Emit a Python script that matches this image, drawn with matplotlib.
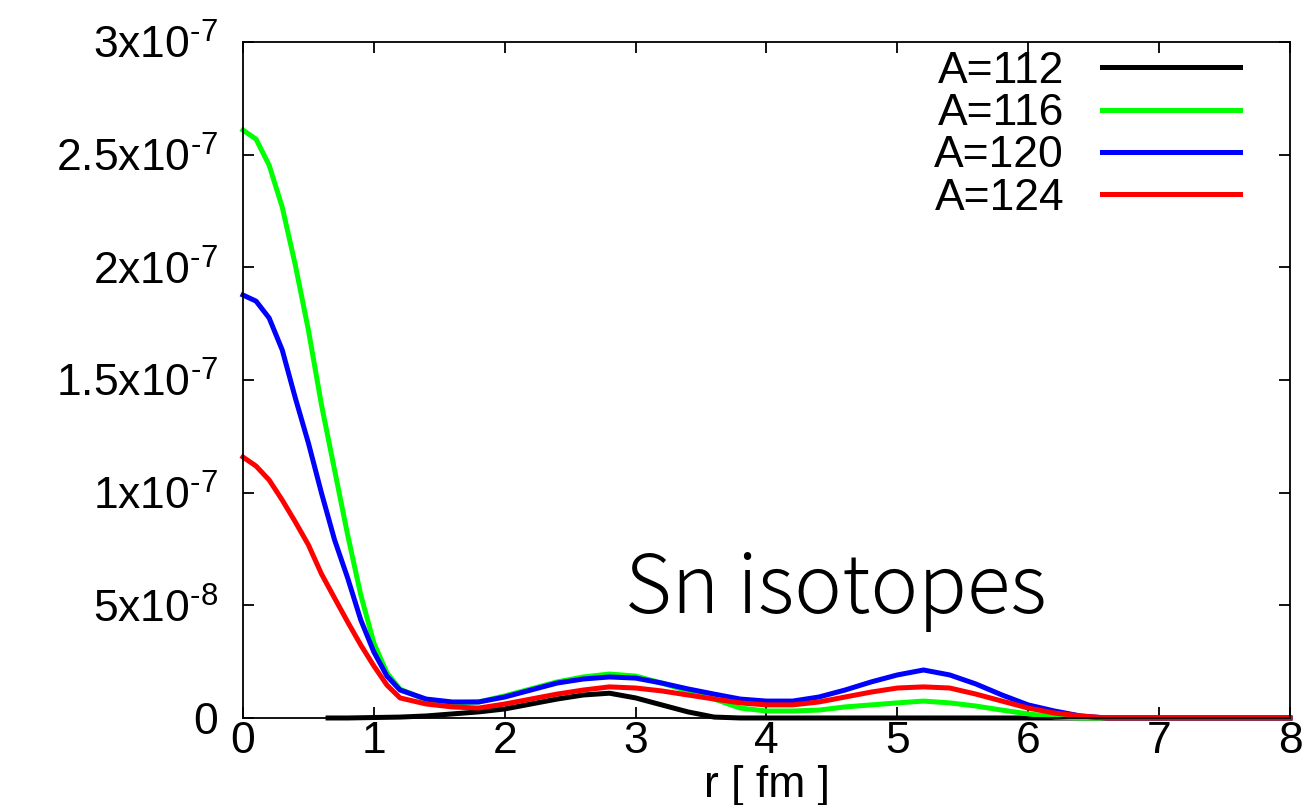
import matplotlib
matplotlib.use("Agg")
import matplotlib.pyplot as plt
import numpy as np
from matplotlib import rcParams

rcParams.update({'font.family': 'Liberation Sans', 'font.size': 32,
                 'mathtext.fontset': 'custom', 'mathtext.rm': 'Liberation Sans'})

# radius grid [fm]: fine near the centre, coarser outside
r = [0.0, 0.1, 0.2, 0.3, 0.4, 0.5, 0.6, 0.7, 0.8, 0.9, 1.0, 1.1, 1.2,
     1.4, 1.6, 1.8, 2.0, 2.2, 2.4, 2.6, 2.8, 3.0, 3.2, 3.4, 3.6, 3.8,
     4.0, 4.2, 4.4, 4.6, 4.8, 5.0, 5.2, 5.4, 5.6, 5.8, 6.0, 6.2, 6.4,
     6.6, 6.8, 7.0, 7.2, 7.4, 7.6, 7.8, 8.0]

# densities in units of 1e-8
dens_116 = [26.09, 25.69, 24.53, 22.67, 20.10, 17.21, 13.89, 11.00, 8.12, 5.46, 3.33, 2.00, 1.28,
            0.80, 0.67, 0.71, 0.98, 1.29, 1.60, 1.82, 1.95, 1.86, 1.55, 1.20, 0.84, 0.44,
            0.31, 0.31, 0.35, 0.49, 0.58, 0.67, 0.75, 0.67, 0.53, 0.35, 0.18, 0.05, 0.0,
            0.0, 0.0, 0.0, 0.0, 0.0, 0.0, 0.0, 0.0]
dens_120 = [18.77, 18.50, 17.75, 16.33, 14.20, 12.20, 9.98, 7.90, 6.21, 4.35, 2.93, 1.86, 1.24,
            0.84, 0.71, 0.71, 0.93, 1.24, 1.55, 1.73, 1.82, 1.77, 1.55, 1.29, 1.06, 0.84,
            0.75, 0.75, 0.93, 1.24, 1.60, 1.91, 2.13, 1.91, 1.51, 1.02, 0.58, 0.31, 0.09,
            0.0, 0.0, 0.0, 0.0, 0.0, 0.0, 0.0, 0.0]
dens_124 = [11.58, 11.18, 10.56, 9.67, 8.70, 7.68, 6.39, 5.32, 4.26, 3.24, 2.31, 1.46, 0.89,
            0.62, 0.49, 0.44, 0.62, 0.84, 1.06, 1.24, 1.38, 1.33, 1.20, 1.02, 0.84, 0.67,
            0.58, 0.58, 0.71, 0.93, 1.15, 1.33, 1.38, 1.33, 1.06, 0.75, 0.44, 0.22, 0.09,
            0.0, 0.0, 0.0, 0.0, 0.0, 0.0, 0.0, 0.0]

# A=112 only starts at r ~ 0.65 fm
r_112 = [0.65, 0.8, 1.0, 1.2, 1.4, 1.6, 1.8, 2.0, 2.2, 2.4, 2.6, 2.8, 3.0, 3.2, 3.4,
         3.6, 3.8, 4.0, 5.0, 6.0, 7.0, 8.0]
dens_112 = [0.0, 0.0, 0.02, 0.04, 0.09, 0.18, 0.27, 0.40, 0.62, 0.84, 1.02, 1.10, 0.89,
            0.58, 0.27, 0.04, 0.0, 0.0, 0.0, 0.0, 0.0, 0.0]

y_ticks = [0, 5e-8, 1e-7, 1.5e-7, 2e-7, 2.5e-7, 3e-7]
y_tick_labels = ['0', r'$\mathregular{5x10^{\text{-}8}}$', r'$\mathregular{1x10^{\text{-}7}}$',
                 r'$\mathregular{1.5x10^{\text{-}7}}$', r'$\mathregular{2x10^{\text{-}7}}$',
                 r'$\mathregular{2.5x10^{\text{-}7}}$', r'$\mathregular{3x10^{\text{-}7}}$']
x_ticks = [0, 1, 2, 3, 4, 5, 6, 7, 8]

fig = plt.figure(figsize=(13.12, 8.05), dpi=100)
ax = fig.add_axes([0.1852, 0.1081, 0.798, 0.8397])

lw = 3.6
scale = 1e-8
ax.plot(r_112, np.array(dens_112) * scale, color='#000000', lw=lw, label='A=112', clip_on=False)
ax.plot(r, np.array(dens_116) * scale, color='#00ff00', lw=lw, label='A=116', clip_on=False)
ax.plot(r, np.array(dens_120) * scale, color='#0000ff', lw=lw, label='A=120', clip_on=False)
ax.plot(r, np.array(dens_124) * scale, color='#ff0000', lw=lw, label='A=124', clip_on=False)

ax.set_xlim(0, 8)
ax.set_ylim(0, 3e-7)
ax.set_xticks(x_ticks)
ax.set_xticklabels([str(t) for t in x_ticks])
ax.set_yticks(y_ticks)
ax.set_yticklabels(y_tick_labels)
ax.tick_params(direction='in', length=8, width=1.3, top=True, right=True)
ax.tick_params(axis='y', pad=18)
ax.tick_params(axis='x', pad=2)
for s in ax.spines.values():
    s.set_linewidth(1.3)

ax.set_xlabel('r [ fm ]', labelpad=2)

ax.legend(loc='upper right', bbox_to_anchor=(0.952, 0.987), frameon=False,
          markerfirst=False, handlelength=3.1, handletextpad=0.85,
          labelspacing=0.03, borderpad=0, borderaxespad=0)

ax.text(0.365, 0.155, 'Sn isotopes', transform=ax.transAxes, fontsize=58,
        family=['Noto Sans CJK JP', 'DejaVu Sans'], weight='light',
        va='baseline', ha='left')

fig.savefig('out.png', dpi=100)
